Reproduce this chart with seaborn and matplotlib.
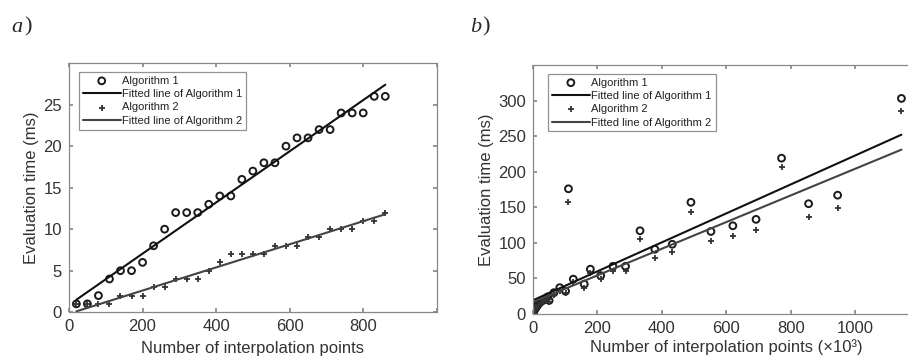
import numpy as np
import pandas as pd
import matplotlib.pyplot as plt
import seaborn as sns

# panel a) - number of interpolation points vs evaluation time
points_a = [20, 50, 80, 110, 140, 170, 200, 230, 260, 290, 320, 350, 380, 410, 440,
            470, 500, 530, 560, 590, 620, 650, 680, 710, 740, 770, 800, 830, 860]
alg1_a = [1, 1, 2, 4, 5, 5, 6, 8, 10, 12, 12, 12, 13, 14, 14,
          16, 17, 18, 18, 20, 21, 21, 22, 22, 24, 24, 24, 26, 26]
alg2_a = [1, 1, 1, 1, 2, 2, 2, 3, 3, 4, 4, 4, 5, 6, 7,
          7, 7, 7, 8, 8, 8, 9, 9, 10, 10, 10, 11, 11, 12]
# fitted lines, value at first and last point
fit1_a = [1.5, 27.4]
fit2_a = [0.1, 11.8]

# panel b) - points in thousands
points_b = [1, 2, 3, 5, 7, 9, 12, 15, 19, 24, 30, 37, 45, 50, 65, 83, 101, 110, 125,
            159, 178, 210, 248, 287, 332, 378, 432, 490, 552, 620, 692, 771, 855, 945, 1143]
alg1_b = [3, 4, 5, 6, 8, 9, 11, 13, 15, 17, 19, 21, 24, 19, 30, 37, 32, 176, 49,
          42, 63, 54, 67, 67, 117, 91, 98, 157, 116, 124, 133, 219, 155, 167, 303]
alg2_b = [2, 3, 4, 5, 7, 8, 10, 12, 13, 15, 17, 19, 22, 17, 27, 33, 29, 158, 45,
          37, 58, 49, 60, 60, 105, 79, 87, 144, 103, 110, 118, 206, 137, 149, 285]
fit1_b = [19.5, 252]
fit2_b = [17, 231]

sns.set_theme(style="ticks")
plt.rcParams["font.family"] = ["Liberation Sans", "DejaVu Sans"]

fig = plt.figure(figsize=(9.08, 3.63), dpi=100)
ax_a = fig.add_axes([0.076, 0.140, 0.405, 0.686])
ax_b = fig.add_axes([0.587, 0.135, 0.426, 0.686])


def draw_panel(ax, x, y1, y2, f1, f2, leg_x):
    df = pd.DataFrame({"x": x, "y1": y1, "y2": y2})
    xs = [x[0], x[-1]]
    sns.scatterplot(data=df, x="x", y="y1", marker="o", s=24, facecolor="none",
                    edgecolor="#1a1a1a", linewidth=1.4, ax=ax, label="Algorithm 1")
    sns.lineplot(x=xs, y=f1, color="#111111", linewidth=1.5, ax=ax,
                 label="Fitted line of Algorithm 1")
    sns.scatterplot(data=df, x="x", y="y2", marker="+", s=22, color="#333333",
                    linewidth=1.3, ax=ax, label="Algorithm 2")
    sns.lineplot(x=xs, y=f2, color="#444444", linewidth=1.5, ax=ax,
                 label="Fitted line of Algorithm 2")
    leg = ax.legend(loc="upper left", fontsize=8, frameon=True, fancybox=False,
                    handlelength=3.4, borderpad=0.35, labelspacing=0.3,
                    handletextpad=0.15, borderaxespad=0, bbox_to_anchor=(leg_x, 0.965))
    leg.get_frame().set_edgecolor("#777777")
    leg.get_frame().set_linewidth(0.9)
    for t in leg.get_texts():
        t.set_color("#222222")
    for sp in ax.spines.values():
        sp.set_color("#888888")
        sp.set_linewidth(0.9)
    ax.tick_params(direction="in", top=True, right=True, length=3, pad=5,
                   labelsize=12, colors="#888888", labelcolor="#333333")


draw_panel(ax_a, points_a, alg1_a, alg2_a, fit1_a, fit2_a, 0.027)
ax_a.set_xlim(0, 1000)
ax_a.set_ylim(0, 30)
ax_a.set_xticks([0, 200, 400, 600, 800, 1000], ["0", "200", "400", "600", "800", ""])
ax_a.set_yticks([0, 5, 10, 15, 20, 25])
ax_a.set_xlabel("Number of interpolation points", fontsize=12, color="#333333", labelpad=5)
ax_a.set_ylabel("Evaluation time (ms)", fontsize=12, color="#333333", labelpad=3)

draw_panel(ax_b, points_b, alg1_b, alg2_b, fit1_b, fit2_b, 0.039)
ax_b.set_xlim(0, 1200)
ax_b.set_ylim(0, 350)
ax_b.set_xticks([0, 200, 400, 600, 800, 1000])
ax_b.set_yticks([0, 50, 100, 150, 200, 250, 300])
ax_b.set_xlabel("Number of interpolation points (\u00d710\u00b3)", fontsize=12,
                color="#333333", labelpad=2)
ax_b.set_ylabel("Evaluation time (ms)", fontsize=12, color="#333333", labelpad=3)

for xa, lab in [(0.013, "a"), (0.518, "b")]:
    fig.text(xa, 0.912, lab, family="Liberation Serif", style="italic", fontsize=16)
    fig.text(xa + 0.0135, 0.912, ")", family="Liberation Serif", fontsize=16)

fig.savefig("out.png", dpi=100)
